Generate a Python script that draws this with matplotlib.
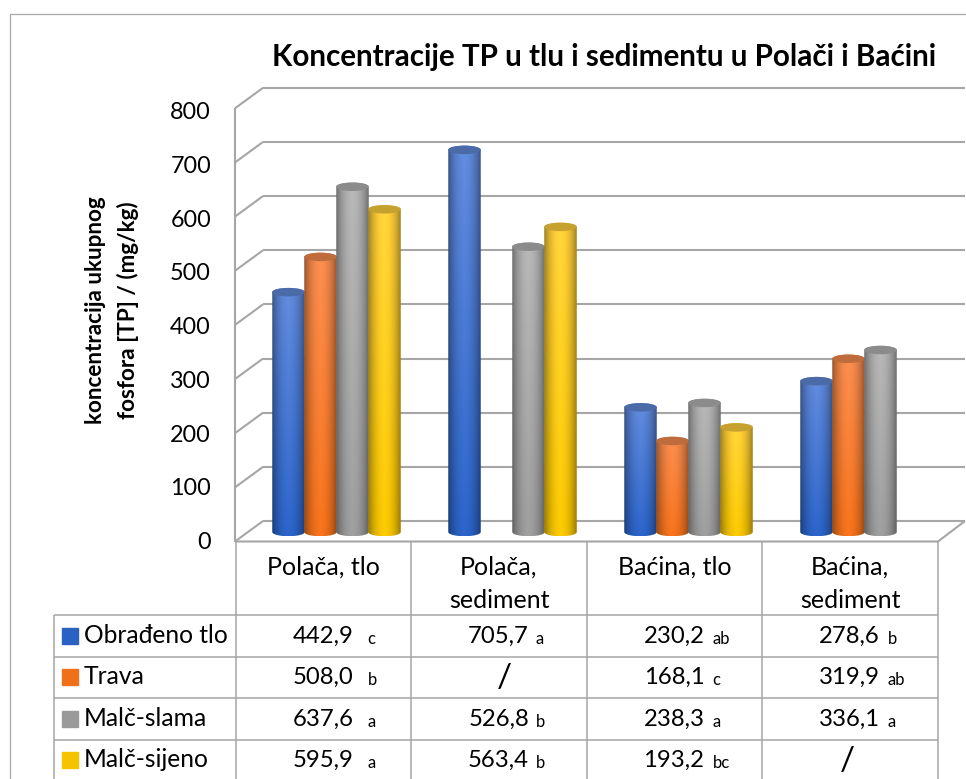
import numpy as np
import matplotlib
matplotlib.use("Agg")
import matplotlib.pyplot as plt
from matplotlib.colors import to_rgb
from matplotlib.patches import Ellipse, PathPatch, Rectangle
from matplotlib.path import Path

plt.rcParams['font.family'] = ['Lato', 'DejaVu Sans']

# data
categories = ["Polača, tlo", "Polača,\nsediment", "Baćina, tlo", "Baćina,\nsediment"]
series = ["Obrađeno tlo", "Trava", "Malč-slama", "Malč-sijeno"]
obradeno = [442.9, 705.7, 230.2, 278.6]
trava = [508.0, np.nan, 168.1, 319.9]
slama = [637.6, 526.8, 238.3, 336.1]
sijeno = [595.9, 563.4, 193.2, np.nan]
letters = [["c", "a", "ab", "b"],
           ["b", "", "c", "ab"],
           ["a", "b", "a", "a"],
           ["a", "b", "bc", ""]]
yticks = [0, 100, 200, 300, 400, 500, 600, 700, 800]
values = [obradeno, trava, slama, sijeno]

top_cols = ["#5f88d8", "#f58a4e", "#b2b2b2", "#ffcf3a"]
low_cols = ["#2a62c4", "#f0701a", "#9a9a9a", "#f5c400"]
GRID = "#a6a6a6"
W, H = 966, 779

fig = plt.figure(figsize=(W / 100, H / 100), dpi=100)

# layer in pixel coordinates for frame, table, text
bg = fig.add_axes([0, 0, 1, 1])
bg.set_xlim(0, W)
bg.set_ylim(H, 0)
bg.axis("off")


def line(xs, ys, lw=1.1, c=GRID):
    bg.plot(xs, ys, color=c, lw=lw, solid_capstyle="butt", zorder=1)


# outer frame
line([9.5, 9.5, W], [H, 13.5, 13.5], lw=0.9, c="#a8a8a8")

# 3d box: front and back of the value axis
fx0, fx1, bx0, bx1 = 235, 938, 263, 965
fy0, by0, scale = 541.5, 521, 0.5415
for v in yticks:
    fy = fy0 - v * scale
    by = by0 - v * scale
    line([fx0, bx0], [fy, by], lw=1.5)
    line([bx0, bx1], [by, by], lw=1.5)
    bg.text(211, 542.5 - v * 0.5375, str(v), ha="right", va="center", fontsize=16.8, color="black")
line([fx0, fx0], [fy0, fy0 - 800 * scale], lw=1.5)
line([fx0, fx1, bx1], [fy0, fy0, by0], lw=1.5)

# title and y label
bg.text(604, 57, "Koncentracije TP u tlu i sedimentu u Polači i Baćini",
        ha="center", va="center", fontsize=21.3, fontweight="bold")
bg.text(95, 310, "koncentracija ukupnog", rotation=90,
        ha="center", va="center", fontsize=16.2, fontweight="bold")
bg.text(128, 310, "fosfora [TP] / (mg/kg)", rotation=90,
        ha="center", va="center", fontsize=16.2, fontweight="bold")

# data table
cols = [236, 411, 587, 762, 938]
rows = [615, 656.5, 698, 739.5, H]
letter_dx = [44, 37, 38, 38]
for x in cols:
    line([x, x], [fy0, H])
line([54, 54], [rows[0], H])
for y in rows[:-1]:
    line([54, cols[-1]], [y, y])
for i, cat in enumerate(categories):
    xc = (cols[i] + cols[i + 1]) / 2
    for k, part in enumerate(cat.split("\n")):
        bg.text(xc, 567 + 33 * k, part, ha="center", va="center", fontsize=18)
for r, name in enumerate(series):
    yc = rows[r] + 20.75
    bg.add_patch(Rectangle((62, yc - 8), 16, 16, color=low_cols[r], zorder=2))
    bg.text(84, yc - 0.5, name, ha="left", va="center", fontsize=17.7)
    for i in range(4):
        xc = (cols[i] + cols[i + 1]) / 2
        v = values[r][i]
        if np.isnan(v):
            bg.text(xc + (5 if i == 1 else -3), yc + 1, "/", ha="center", va="center", fontsize=24)
        else:
            bg.text(xc + 30, yc + 0.5, f"{v:.1f}".replace(".", ","), ha="right", va="center", fontsize=17.2)
            bg.text(xc + letter_dx[i], yc + 3, letters[r][i], ha="left", va="center", fontsize=12)

# bars: y=0 sits on pixel 532, groups are 176 px apart
ax = fig.add_axes([0, 0, 1, 1], facecolor="none")
ax.axis("off")

bw = 32.5 / 176
eh = 8.5 / scale
pos = np.linspace(-1, 1, 64)
shade = (1 - 0.34 * np.abs(pos) ** 2.5) * (0.94 + 0.1 * (1 - np.abs(pos)))


def cylinder(x, v, top, low, z):
    t = np.linspace(0, 1, 40)[:, None, None]
    img = t * np.array(to_rgb(top)) + (1 - t) * np.array(to_rgb(low))
    img = np.clip(img * shade[None, :, None], 0, 1)
    th = np.linspace(np.pi, 2 * np.pi, 30)
    xs = np.r_[x + bw / 2 * np.cos(th), x + bw / 2 * np.cos(th - np.pi)]
    ys = np.r_[eh / 2 * np.sin(th), v + eh / 2 * np.sin(th - np.pi)]
    im = ax.imshow(img, extent=(x - bw / 2, x + bw / 2, -eh / 2, v + eh / 2), origin="lower",
                   aspect="auto", zorder=z, interpolation="bilinear")
    patch = PathPatch(Path(np.column_stack([xs, ys])), fc="none", ec="none", zorder=z)
    ax.add_patch(patch)
    im.set_clip_path(patch)
    cap = np.array(to_rgb(top)) * 0.78
    ax.add_patch(Ellipse((x, v), bw, eh, fc=tuple(cap), ec="none", zorder=z + 0.5))


for s, ser in enumerate(values):
    for i, v in enumerate(ser):
        if not np.isnan(v):
            cylinder(i + (s - 1.5) * 32 / 176, v, top_cols[s], low_cols[s], 3 + s)

ax.set_xlim(-336.5 / 176, (W - 336.5) / 176)
ax.set_ylim(-(H - 532) / scale, 532 / scale)

fig.savefig("out.png", dpi=100)
